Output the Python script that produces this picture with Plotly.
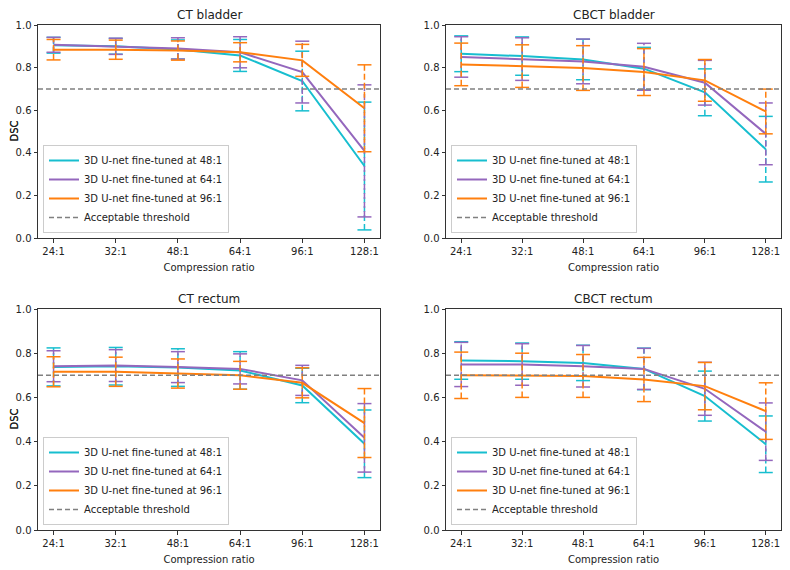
import plotly.graph_objects as go
from plotly.subplots import make_subplots

ratios = ["24:1", "32:1", "48:1", "64:1", "96:1", "128:1"]
model_names = ["3D U-net fine-tuned at 48:1", "3D U-net fine-tuned at 64:1", "3D U-net fine-tuned at 96:1"]
threshold_name = "Acceptable threshold"
threshold = 0.7
panel_titles = ["CT bladder", "CBCT bladder", "CT rectum", "CBCT rectum"]

# CT bladder
ct_bladder_48 = [0.905, 0.900, 0.885, 0.857, 0.737, 0.338]
ct_bladder_48_err = [0.037, 0.037, 0.045, 0.075, 0.140, 0.300]
ct_bladder_64 = [0.907, 0.900, 0.890, 0.872, 0.779, 0.409]
ct_bladder_64_err = [0.035, 0.038, 0.050, 0.073, 0.145, 0.310]
ct_bladder_96 = [0.884, 0.884, 0.880, 0.872, 0.834, 0.609]
ct_bladder_96_err = [0.048, 0.045, 0.045, 0.045, 0.075, 0.204]

# CBCT bladder
cbct_bladder_48 = [0.865, 0.854, 0.838, 0.795, 0.684, 0.417]
cbct_bladder_48_err = [0.084, 0.090, 0.095, 0.100, 0.110, 0.154]
cbct_bladder_64 = [0.850, 0.840, 0.829, 0.804, 0.729, 0.489]
cbct_bladder_64_err = [0.095, 0.100, 0.105, 0.110, 0.105, 0.145]
cbct_bladder_96 = [0.815, 0.807, 0.798, 0.779, 0.740, 0.594]
cbct_bladder_96_err = [0.100, 0.100, 0.105, 0.110, 0.098, 0.105]

# CT rectum
ct_rectum_48 = [0.738, 0.741, 0.735, 0.722, 0.654, 0.390]
ct_rectum_48_err = [0.086, 0.085, 0.085, 0.085, 0.078, 0.153]
ct_rectum_64 = [0.741, 0.744, 0.737, 0.729, 0.677, 0.417]
ct_rectum_64_err = [0.070, 0.072, 0.070, 0.068, 0.068, 0.155]
ct_rectum_96 = [0.716, 0.716, 0.708, 0.700, 0.666, 0.484]
ct_rectum_96_err = [0.068, 0.066, 0.066, 0.063, 0.068, 0.156]

# CBCT rectum
cbct_rectum_48 = [0.767, 0.764, 0.756, 0.729, 0.606, 0.388]
cbct_rectum_48_err = [0.085, 0.082, 0.080, 0.094, 0.113, 0.128]
cbct_rectum_64 = [0.749, 0.749, 0.741, 0.729, 0.639, 0.445]
cbct_rectum_64_err = [0.100, 0.094, 0.094, 0.093, 0.120, 0.130]
cbct_rectum_96 = [0.700, 0.700, 0.697, 0.681, 0.651, 0.538]
cbct_rectum_96_err = [0.105, 0.100, 0.097, 0.100, 0.107, 0.128]

colors = ["#17becf", "#9467bd", "#ff7f0e"]

panels = [
    [(ct_bladder_48, ct_bladder_48_err), (ct_bladder_64, ct_bladder_64_err), (ct_bladder_96, ct_bladder_96_err)],
    [(cbct_bladder_48, cbct_bladder_48_err), (cbct_bladder_64, cbct_bladder_64_err), (cbct_bladder_96, cbct_bladder_96_err)],
    [(ct_rectum_48, ct_rectum_48_err), (ct_rectum_64, ct_rectum_64_err), (ct_rectum_96, ct_rectum_96_err)],
    [(cbct_rectum_48, cbct_rectum_48_err), (cbct_rectum_64, cbct_rectum_64_err), (cbct_rectum_96, cbct_rectum_96_err)],
]

W, H = 790, 570
OFF = 8  # page body margin offset (screen px -> figure px)
ML, MR, MT, MB = 20, 5, 2, 20
PW, PH = W - ML - MR, H - MT - MB
FONT = "DejaVu Sans"
TXT = "#222222"


def px_x(sx):
    return (sx - OFF - ML) / PW


def px_y(sy):
    return (H - MB - (sy - OFF)) / PH


# screen pixel boxes for axes: (left, right, top, bottom)
boxes = [(38, 380, 25, 238), (446, 781, 25, 238),
         (38, 380, 309, 530), (446, 781, 309, 530)]
legend_pos = [(43, 233), (451, 233), (43, 525), (451, 525)]

fig = make_subplots(rows=2, cols=2)
legend_keys = ["legend", "legend2", "legend3", "legend4"]

for p, series in enumerate(panels):
    r, c = p // 2 + 1, p % 2 + 1
    lg = legend_keys[p]
    for i, (vals, errs) in enumerate(series):
        col = colors[i]
        lo = [v - e for v, e in zip(vals, errs)]
        hi = [v + e for v, e in zip(vals, errs)]
        xs, ys = [], []
        for k, x in enumerate(ratios):
            xs += [x, x, None]
            ys += [lo[k], hi[k], None]
        fig.add_trace(go.Scatter(x=xs, y=ys, mode="lines", showlegend=False,
                                 line=dict(color=col, width=1.5, dash="6px,3px"),
                                 hoverinfo="skip"), row=r, col=c)
        fig.add_trace(go.Scatter(x=ratios + ratios, y=lo + hi, mode="markers", showlegend=False,
                                 marker=dict(symbol="line-ew-open", size=10, color=col,
                                             line=dict(color=col, width=1.5)),
                                 hoverinfo="skip"), row=r, col=c)
        fig.add_trace(go.Scatter(x=ratios, y=vals, mode="lines", name=model_names[i],
                                 line=dict(color=col, width=2), legend=lg,
                                 showlegend=True), row=r, col=c)
    fig.add_hline(y=threshold, line=dict(color="#808080", width=1.5, dash="5px,3px"),
                  row=r, col=c, showlegend=True, name=threshold_name, legend=lg, legendrank=2000)

    left, right, top, bottom = boxes[p]
    xa = "xaxis" if p == 0 else f"xaxis{p+1}"
    ya = "yaxis" if p == 0 else f"yaxis{p+1}"
    fig.layout[xa].update(domain=[px_x(left), px_x(right)], type="category",
                          range=[-0.25, 5.25], showline=True, mirror=True, automargin=False,
                          linecolor="#333333", linewidth=1, ticks="outside",
                          ticklen=3.5, tickcolor="#333333", showgrid=False, zeroline=False,
                          tickfont=dict(family=FONT, size=10, color=TXT),
                          title=dict(text="Compression ratio", standoff=8,
                                     font=dict(family=FONT, size=10, color=TXT)))
    fig.layout[ya].update(domain=[px_y(bottom), px_y(top)], range=[0, 1.0],
                          tickvals=[0, 0.2, 0.4, 0.6, 0.8, 1.0], tickformat=".1f",
                          showline=True, mirror=True, linecolor="#333333", linewidth=1,
                          ticks="outside", ticklen=3.5, tickcolor="#333333", automargin=False,
                          showgrid=False, zeroline=False,
                          tickfont=dict(family=FONT, size=10, color=TXT))
    fig.add_annotation(text="DSC", x=px_x(14), y=px_y((top + bottom) / 2),
                       xref="paper", yref="paper", xanchor="center", yanchor="middle",
                       textangle=-90, showarrow=False,
                       font=dict(family=FONT, size=10, color=TXT))
    fig.add_annotation(text=panel_titles[p], x=px_x((left + right) / 2), y=px_y(top),
                       xref="paper", yref="paper", xanchor="center", yanchor="bottom",
                       yshift=1, showarrow=False, font=dict(family=FONT, size=12, color=TXT))
    lx, ly = legend_pos[p]
    fig.layout[lg] = dict(x=px_x(lx), y=px_y(ly), xanchor="left", yanchor="bottom",
                          xref="paper", yref="paper",
                          bgcolor="rgba(255,255,255,0.8)", bordercolor="#cccccc", borderwidth=1,
                          font=dict(family=FONT, size=10, color=TXT), tracegroupgap=0,
                          itemwidth=30)

fig.update_layout(width=W, height=H, margin=dict(l=ML, r=MR, t=MT, b=MB, autoexpand=False),
                  plot_bgcolor="white", paper_bgcolor="white",
                  font=dict(family=FONT, size=10, color=TXT))

fig.write_html("out.html")
